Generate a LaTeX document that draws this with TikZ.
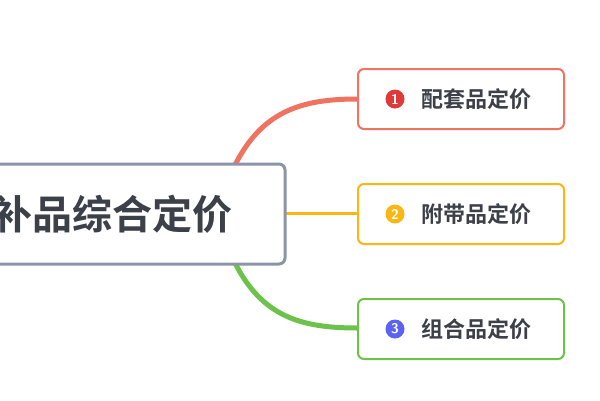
\documentclass[tikz,border=0pt]{standalone}
\usepackage{fontspec}
\newfontfamily\cjk{Noto Sans CJK SC Bold}
\definecolor{redc}{HTML}{F07260}
\definecolor{orac}{HTML}{FBB614}
\definecolor{grec}{HTML}{6CC24A}
\definecolor{grayc}{HTML}{8A96A8}
\definecolor{txtc}{HTML}{3C4048}
\definecolor{numred}{HTML}{DE3A3A}
\definecolor{numblue}{HTML}{5A64F0}
\begin{document}
\begin{tikzpicture}[x=1pt, y=-1pt,
  root/.style = {draw=grayc, line width=3pt, rounded corners=6pt, fill=white, minimum width=384pt, minimum height=100pt, text=txtc, font=\cjk\fontsize{40}{42}\selectfont},
  leaf/.style = {draw=#1, line width=2pt, rounded corners=6pt, fill=white, minimum width=206pt, minimum height=60pt, text=txtc, font=\cjk\fontsize{22}{24}\selectfont},
  num/.style = {circle, fill=#1, text=white, inner sep=0pt, minimum size=19pt, font=\sffamily\bfseries\fontsize{14}{14}\selectfont}] 
\useasboundingbox (0,0) rectangle (600,400);
\fill[white] (0,0) rectangle (600,400);

% branches
\coordinate (r1) at (235,165);
\coordinate (r3) at (235,263);
\draw[redc, line width=5pt] (r1) .. controls (262,112) and (300,99) .. (357,99);
\draw[orac, line width=3pt] (280,213) -- (357,213);
\draw[grec, line width=5pt] (r3) .. controls (262,316) and (300,328) .. (357,328);

\node[root] (main) at (93,214) {互补品综合定价}; 
\node[leaf=redc] (a) at (461,99) {\hspace*{30pt}配套品定价}; 
\node[leaf=orac] (b) at (461,214) {\hspace*{30pt}附带品定价}; 
\node[leaf=grec] (c) at (461,329) {\hspace*{30pt}组合品定价}; 

\node[num=numred] at (395,99) {1};
\node[num=orac] at (395,214) {2};
\node[num=numblue] at (395,329) {3};
\end{tikzpicture}
\end{document}
